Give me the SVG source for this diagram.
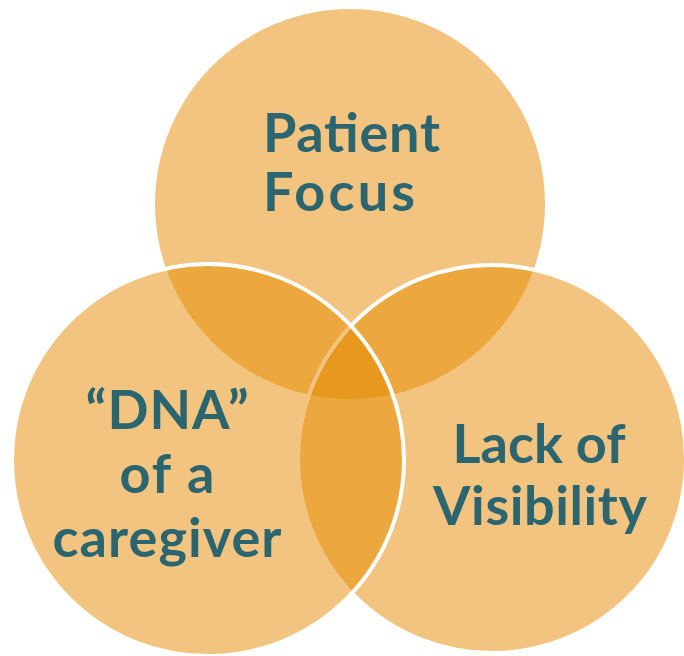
<svg xmlns="http://www.w3.org/2000/svg" width="684" height="656" viewBox="0 0 684 656">
<style>
.c{fill:#E58A00;fill-opacity:0.5}
.s{stroke:#FFFFFF;stroke-width:4}
.t{font-family:Lato,"Open Sans","Liberation Sans",sans-serif;font-weight:bold;font-size:54px;fill:#2B6570}
</style>
<rect width="684" height="656" fill="#FFFFFF"/>
<g id="patient-focus">
<circle class="c" cx="350" cy="204" r="195"/>
</g>
<g id="lack-of-visibility">
<circle class="c s" cx="492" cy="459" r="194"/>
</g>
<g id="dna-of-a-caregiver">
<circle class="c s" cx="208" cy="460" r="196"/>
</g>
<g id="labels">
<text class="t" x="263" y="152" textLength="177">Patient</text>
<text class="t" x="263" y="211" textLength="152">Focus</text>
<text class="t" x="167" y="429" text-anchor="middle" textLength="163">“DNA”</text>
<text class="t" x="167" y="493" text-anchor="middle" textLength="95">of a</text>
<text class="t" x="167" y="557" text-anchor="middle" textLength="229">caregiver</text>
<text class="t" x="539" y="463" text-anchor="middle" textLength="173">Lack of</text>
<text class="t" x="540" y="525" text-anchor="middle" textLength="214">Visibility</text>
</g>
<g id="connectors"/>
</svg>
